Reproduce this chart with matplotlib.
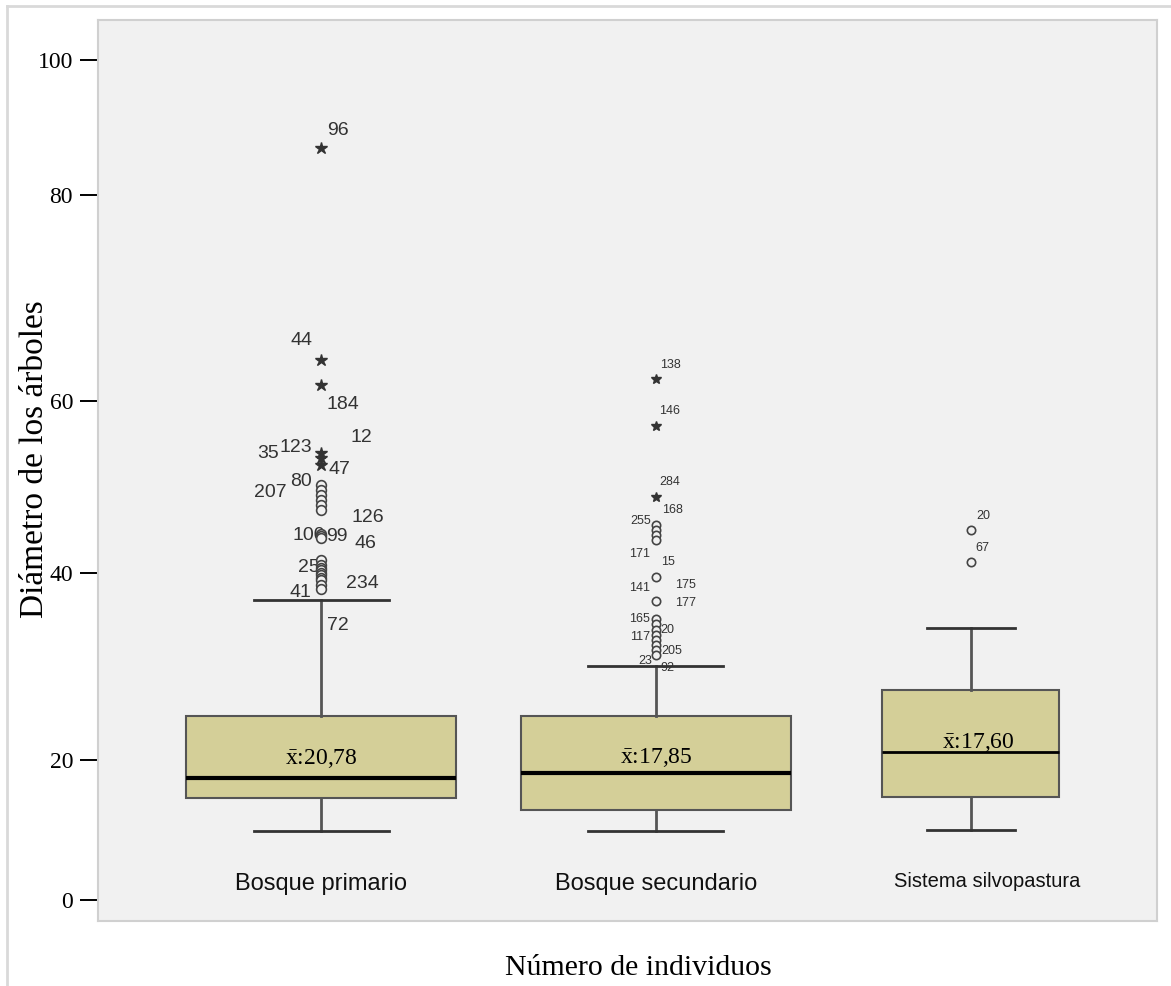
import numpy as np
import matplotlib
matplotlib.use("Agg")
import matplotlib.pyplot as plt
from matplotlib.lines import Line2D

# groups and their box statistics (diameter, cm)
groups = ["Bosque primario", "Bosque secundario", "Sistema silvopastura"]
positions = [1.0, 2.0, 2.94]
widths = [0.806, 0.806, 0.528]
q1 = [14.6, 12.9, 14.7]
median = [17.4, 18.1, 20.9]
q3 = [24.7, 24.7, 27.5]
whisker_low = [9.9, 9.9, 10.0]
whisker_high = [37.1, 30.0, 34.1]
means = ["20,78", "17,85", "17,60"]
mean_label_y = [20.2, 20.3, 21.9]

# outliers (circles) and extremes (stars) per group
outliers = [
    [50.2, 49.7, 49.1, 48.5, 47.9, 47.3, 44.5, 44.3, 44.1,
     41.5, 40.9, 40.6, 40.3, 40.0, 39.8, 39.5, 39.2, 38.7, 38.3],
    [45.6, 45.0, 44.4, 43.8, 39.6, 37.0, 35.1, 34.5, 33.9, 33.4,
     32.8, 32.3, 31.8, 31.2],
    [45.0, 41.3],
]
extremes = [
    [87.0, 64.0, 61.5, 54.0, 53.4, 52.6],
    [62.1, 57.1, 48.8],
    [],
]

# case labels: (text, x offset from group, y value, alignment)
case_labels = [
    [("96", 0.05, 89.6, "center"), ("44", -0.057, 65.9, "center"),
     ("184", 0.066, 59.6, "center"), ("12", 0.119, 55.8, "center"),
     ("35", -0.158, 53.9, "center"), ("123", -0.075, 54.6, "center"),
     ("47", 0.054, 52.0, "center"), ("207", -0.152, 49.4, "center"),
     ("80", -0.06, 50.6, "center"), ("126", 0.14, 46.5, "center"),
     ("100", 0.012, 44.3, "right"), ("99", 0.015, 44.2, "left"),
     ("46", 0.134, 43.4, "center"), ("25", -0.005, 40.6, "right"),
     ("234", 0.122, 38.9, "center"), ("41", -0.063, 37.9, "center"),
     ("72", 0.051, 34.4, "center")],
    [("138", 0.042, 63.5, "center"), ("146", 0.042, 58.8, "center"),
     ("284", 0.042, 50.6, "center"), ("168", 0.048, 47.3, "center"),
     ("255", -0.045, 46.0, "center"), ("171", -0.048, 42.2, "center"),
     ("15", 0.036, 41.3, "center"), ("141", -0.048, 38.4, "center"),
     ("175", 0.087, 38.7, "center"), ("177", 0.087, 36.8, "center"),
     ("165", -0.048, 35.1, "center"), ("20", 0.033, 33.9, "center"),
     ("117", -0.048, 33.2, "center"), ("205", 0.048, 31.7, "center"),
     ("23", -0.033, 30.6, "center"), ("92", 0.033, 29.8, "center")],
    [("20", 0.037, 46.6, "center"), ("67", 0.034, 42.9, "center")],
]
label_sizes = [14, 9, 9]

# the value axis of this chart is stretched unevenly between ticks
tick_vals = [-10, 0, 20, 40, 60, 80, 100, 120]
tick_pos = [-49, 21, 161, 348, 520, 726, 861, 996]


def fwd(v):
    return np.interp(v, tick_vals, tick_pos)


def inv(p):
    return np.interp(p, tick_pos, tick_vals)


BG = "#f1f1f1"
BOX = "#d4cf98"
EDGE = "#555555"
SANS = ["Liberation Sans", "DejaVu Sans"]

plt.rcParams["font.family"] = ["Liberation Serif", "DejaVu Serif"]
plt.rcParams["mathtext.fontset"] = "custom"
plt.rcParams["mathtext.rm"] = "Liberation Serif"
plt.rcParams["mathtext.it"] = "Liberation Serif:italic"

fig = plt.figure(figsize=(11.71, 9.86), dpi=100)
ax = fig.add_axes([0.0837, 0.0659, 0.9043, 0.9138])
ax.set_facecolor(BG)
ax.set_yscale("function", functions=(fwd, inv))
ax.set_xlim(0.334, 3.496)
ax.set_ylim(-3.0, 105.9)

stats = []
for i in range(3):
    stats.append({"q1": q1[i], "med": median[i], "q3": q3[i],
                  "whislo": whisker_low[i], "whishi": whisker_high[i],
                  "fliers": []})

for i in range(3):
    lw_med = 3 if i < 2 else 2
    ax.bxp([stats[i]], positions=[positions[i]], widths=[widths[i]],
           showfliers=False, patch_artist=True,
           boxprops=dict(facecolor=BOX, edgecolor=EDGE, linewidth=1.5),
           medianprops=dict(color="black", linewidth=lw_med),
           whiskerprops=dict(color=EDGE, linewidth=2),
           capprops=dict(color="#333333", linewidth=2),
           capwidths=[widths[i] / 2])

for i in range(3):
    x = positions[i]
    ms = 7 if i == 0 else 6
    if outliers[i]:
        ax.plot([x] * len(outliers[i]), outliers[i], "o", ms=ms, mfc=BG,
                mec="#444444", mew=1.2, zorder=5)
    if extremes[i]:
        ax.plot([x] * len(extremes[i]), extremes[i], "*", ms=9 if i == 0 else 7,
                color="#333333", zorder=5)
    for text, dx, y, ha in case_labels[i]:
        ax.text(x + dx, y, text, ha=ha, va="center", fontsize=label_sizes[i],
                family=SANS, color="#333333", zorder=4)
    mx = x + (0.022 if i == 2 else 0)
    ax.text(mx, mean_label_y[i], r"$\bar{\mathrm{x}}$:" + means[i],
            ha="center", va="center", fontsize=17, zorder=6)

# group names sit inside the plot area
name_sizes = [17, 17, 14.5]
for i, name in enumerate(groups):
    ax.text(positions[i] + (0.05 if i == 2 else 0), 2.3 if i < 2 else 2.7,
            name, ha="center", va="center", fontsize=name_sizes[i],
            family=SANS, color="#111111")

ax.set_xticks([])
ax.set_yticks([0, 20, 40, 60, 80, 100])
ax.set_yticklabels(["0", "20", "40", "60", "80", "100"])
ax.tick_params(axis="y", length=13, width=1.4, pad=5, labelsize=17,
               color="black")
for side in ["left", "right", "top", "bottom"]:
    ax.spines[side].set_color("#d0d0d0")
    ax.spines[side].set_linewidth(1.5)

fig.text(0.030, 0.5345, "Diámetro de los árboles", rotation=90,
         ha="center", va="center", fontsize=24)
fig.text(0.545, 0.018, "Número de individuos", ha="center", va="center",
         fontsize=21.5)

# light frame along the top and left of the figure
fig.add_artist(Line2D([0.006, 1.0], [0.994, 0.994], color="#d9d9d9", lw=2))
fig.add_artist(Line2D([0.006, 0.006], [0.0, 0.994], color="#d9d9d9", lw=2))

fig.savefig("out.png", dpi=100)
